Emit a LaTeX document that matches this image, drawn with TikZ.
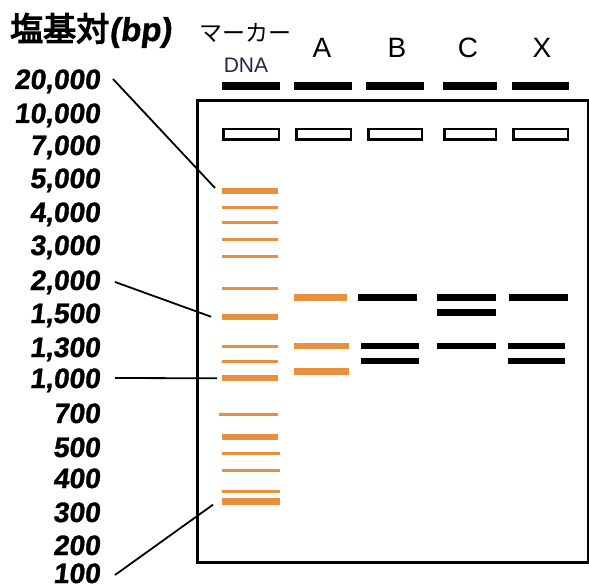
\documentclass[tikz,border=0pt]{standalone}
\usepackage{fontspec}
\setmainfont{Liberation Sans}
\newfontfamily\cjkfont{Noto Sans CJK JP}
\newfontfamily\cjkheavy[FakeBold=4]{Noto Sans CJK JP}
\newfontfamily\numfont[FakeSlant=0.12,FakeBold=1.2]{Liberation Sans}
\definecolor{bandorange}{RGB}{232,144,62}
\definecolor{dnatext}{RGB}{40,35,70}
\tikzset{
  bandbox/.style={rectangle, inner sep=0pt, outer sep=0pt, draw=none},
  wellbox/.style={rectangle, inner sep=0pt, outer sep=0pt, draw=black, line width=2.5pt, fill=white,
                  minimum height=10.5pt},
  topbar/.style={rectangle, inner sep=0pt, outer sep=0pt, fill=black, minimum height=8pt},
  sizelabel/.style={anchor=base east, inner sep=0pt, font=\fontsize{28}{28}\selectfont\numfont\bfseries},
  lanelabel/.style={inner sep=0pt, font=\fontsize{28}{28}\selectfont},
  pointer/.style={draw=black, line width=1.8pt},
  gelframe/.style={draw=black, line width=3pt}
}
\begin{document}
\begin{tikzpicture}[x=1pt,y=-1pt]
\useasboundingbox (0,0) rectangle (589,588);

% gel outline
\draw[gelframe] (197,101) rectangle (588,562);

% headings
\node[anchor=base west, inner sep=0pt] (title) at (10,41)
  {\fontsize{33}{33}\selectfont\cjkheavy 塩基対\numfont\bfseries(bp)};
\node[anchor=base west, inner sep=0pt] (marker) at (199,42)
  {\fontsize{23}{23}\selectfont\cjkfont マーカー};
\node[inner sep=0pt, text=dnatext, font=\fontsize{21}{21}\selectfont] (dna) at (246,65) {DNA};
\node[lanelabel] (la) at (322,48) {A};
\node[lanelabel] (lb) at (397,48) {B};
\node[lanelabel] (lc) at (468,48) {C};
\node[lanelabel] (lx) at (542,48) {X};

% black bars above the lanes
\foreach \n/\a/\b in {0/222/280, 1/294/352, 2/366/424, 3/443/497, 4/512/569}
  \node[topbar, minimum width={(\b-\a)*1pt}] (t\n) at ({(\a+\b)/2},86) {};

% wells
\foreach \n/\a/\b in {0/222/280, 1/295/352, 2/367/423, 3/443/497, 4/512/569}
  \node[wellbox, minimum width={(\b-\a-2.5)*1pt}] (w\n) at ({(\a+\b)/2},134.5) {};

% size marker ladder
\foreach \n/\y/\h/\a/\b in {
   1/191/6/222/278, 2/207.7/3/222/278, 3/222.7/3/222/278, 4/239.3/3/222/278,
   5/256.7/3/222/278, 6/288/3/222/278, 7/316.7/6/222/278, 8/346/3/222/278,
   9/361/3/222/278, 10/378.3/6/222/278, 11/414/3/219/278, 12/436.7/6/222/278,
   13/453.3/3/222/280, 14/470/3/222/280, 15/491.7/3/222/280, 16/501.7/7/222/280}
  \node[bandbox, fill=bandorange, minimum width={(\b-\a)*1pt}, minimum height=\h pt]
    (m\n) at ({(\a+\b)/2},\y) {};

% lane A
\foreach \n/\y/\a/\b in {1/297.7/294/347, 2/346/294/349, 3/371.3/294/349}
  \node[bandbox, fill=bandorange, minimum width={(\b-\a)*1pt}, minimum height=6.5pt]
    (a\n) at ({(\a+\b)/2},\y) {};
% lane B
\foreach \n/\y/\a/\b in {1/297.7/358/417, 2/346/361/419, 3/361/361/419}
  \node[bandbox, fill=black, minimum width={(\b-\a)*1pt}, minimum height=6.5pt]
    (b\n) at ({(\a+\b)/2},\y) {};
% lane C
\foreach \n/\y/\a/\b in {1/297.7/437/496, 2/312.3/437/496, 3/346/437/496}
  \node[bandbox, fill=black, minimum width={(\b-\a)*1pt}, minimum height=6.5pt]
    (c\n) at ({(\a+\b)/2},\y) {};
% lane X
\foreach \n/\y/\a/\b in {1/297.7/509/568, 2/346/508/565, 3/361/508/565}
  \node[bandbox, fill=black, minimum width={(\b-\a)*1pt}, minimum height=6.5pt]
    (x\n) at ({(\a+\b)/2},\y) {};

% size labels (baseline = digit centre + 10)
\node[sizelabel] (s20000) at (100,89)  {20,000};
\node[sizelabel] (s10000) at (100,123) {10,000};
\node[sizelabel] (s7000)  at (100,155) {7,000};
\node[sizelabel] (s5000)  at (100,188) {5,000};
\node[sizelabel] (s4000)  at (100,222) {4,000};
\node[sizelabel] (s3000)  at (100,255) {3,000};
\node[sizelabel] (s2000)  at (100,290) {2,000};
\node[sizelabel] (s1500)  at (100,323) {1,500};
\node[sizelabel] (s1300)  at (100,357) {1,300};
\node[sizelabel] (s1000)  at (100,388) {1,000};
\node[sizelabel] (s700)   at (100,423) {700};
\node[sizelabel] (s500)   at (100,457) {500};
\node[sizelabel] (s400)   at (100,488) {400};
\node[sizelabel] (s300)   at (100,522) {300};
\node[sizelabel] (s200)   at (100,555) {200};
\node[sizelabel] (s100)   at (100,583) {100};

% pointers from size labels to ladder bands
\draw[pointer] ([xshift=13pt,yshift=10pt]s20000.base east) -- ([xshift=-7pt,yshift=3pt]m1.west);
\draw[pointer] ([xshift=15pt,yshift=8pt]s2000.base east) -- ([xshift=-11pt]m7.west);
\draw[pointer] ([xshift=15pt,yshift=10pt]s1000.base east) -- ([xshift=-5pt]m10.west);
\draw[pointer] ([xshift=15pt,yshift=8pt]s100.base east) -- ([xshift=-9pt,yshift=-3pt]m16.west);
\end{tikzpicture}
\end{document}
